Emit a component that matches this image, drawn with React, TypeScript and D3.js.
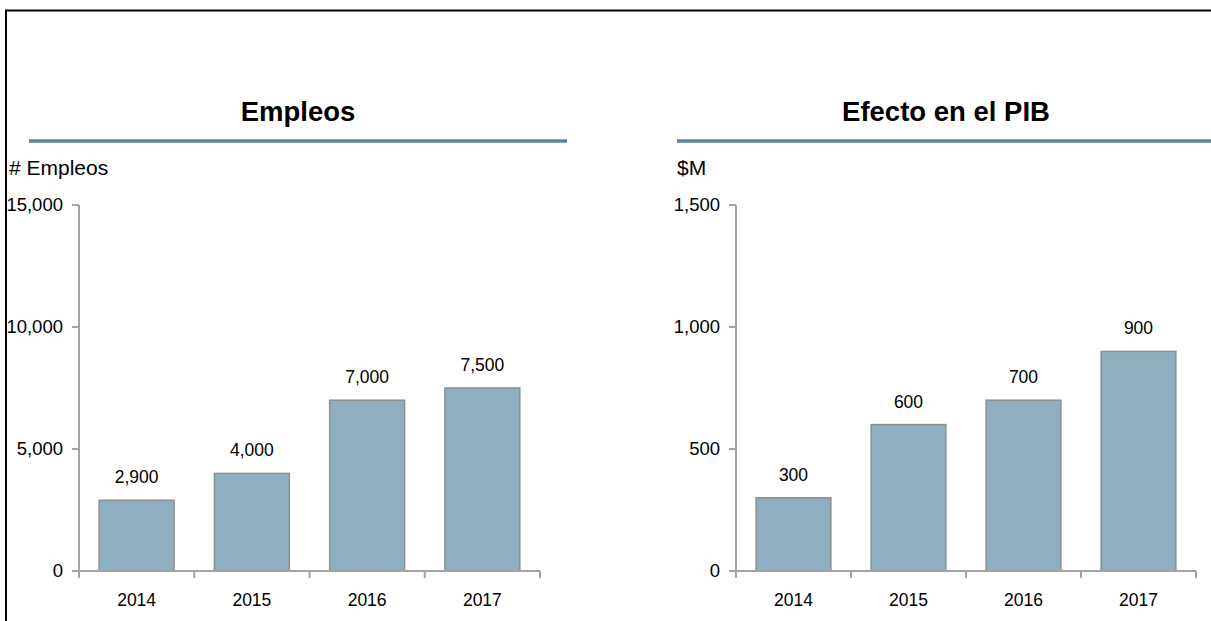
import React from "react";
import * as d3 from "d3";

const years = ["2014", "2015", "2016", "2017"];
const empleos = [2900, 4000, 7000, 7500];
const pib = [300, 600, 700, 900];
const empleosTicks = [0, 5000, 10000, 15000];
const pibTicks = [0, 500, 1000, 1500];

const FONT = "'Liberation Sans', Arial, Helvetica, sans-serif";
const fmt = d3.format(",");

type PanelProps = {
  title: string;
  unit: string;
  values: number[];
  ticks: number[];
  max: number;
  axisX: number;
  axisEnd: number;
  titleX: number;
  lineX0: number;
  lineX1: number;
  unitX: number;
};

function Panel(p: PanelProps) {
  const y = d3.scaleLinear().domain([0, p.max]).range([571, 205]);
  const x = d3
    .scaleBand<string>()
    .domain(years)
    .range([p.axisX, p.axisEnd])
    .paddingInner(0.35)
    .paddingOuter(0.175);
  const step = x.step();
  const boundaries = d3.range(years.length + 1).map((i) => p.axisX + i * step);
  const axisColor = "#a3a3a3";
  return (
    <g>
      <text x={p.titleX} y={121} textAnchor="middle" fontFamily={FONT} fontWeight="bold" fontSize={27.5} fill="#000">
        {p.title}
      </text>
      <line x1={p.lineX0} x2={p.lineX1} y1={141} y2={141} stroke="#5d8597" strokeWidth={3.5} />
      <text x={p.unitX} y={175} fontFamily={FONT} fontSize={21} fill="#000">
        {p.unit}
      </text>
      {p.values.map((v, i) => (
        <rect
          key={"b" + i}
          x={x(years[i])!}
          y={y(v)}
          width={x.bandwidth()}
          height={y(0) - y(v)}
          fill="#8eafc0"
          stroke="#8f8f8f"
          strokeWidth={1.5}
        />
      ))}
      {p.values.map((v, i) => (
        <text
          key={"v" + i}
          x={x(years[i])! + x.bandwidth() / 2}
          y={y(v) - 17}
          textAnchor="middle"
          fontFamily={FONT}
          fontSize={17.5}
          fill="#000"
        >
          {fmt(v)}
        </text>
      ))}
      <line x1={p.axisX} x2={p.axisX} y1={y(p.max)} y2={y(0)} stroke={axisColor} strokeWidth={2} />
      {p.ticks.map((t) => (
        <g key={"t" + t}>
          <line x1={p.axisX - 7} x2={p.axisX} y1={y(t)} y2={y(t)} stroke={axisColor} strokeWidth={2} />
          <text
            x={p.axisX - 16}
            y={y(t)}
            dy="0.35em"
            textAnchor="end"
            fontFamily={FONT}
            fontSize={18.5}
            fill="#000"
          >
            {fmt(t)}
          </text>
        </g>
      ))}
      <line x1={p.axisX - 7} x2={p.axisEnd} y1={y(0)} y2={y(0)} stroke={axisColor} strokeWidth={2} />
      {boundaries.map((bx, i) => (
        <line key={"xb" + i} x1={bx} x2={bx} y1={y(0)} y2={y(0) + 7} stroke={axisColor} strokeWidth={2} />
      ))}
      {years.map((yr) => (
        <text
          key={"y" + yr}
          x={x(yr)! + x.bandwidth() / 2}
          y={606}
          textAnchor="middle"
          fontFamily={FONT}
          fontSize={17.5}
          fill="#000"
        >
          {yr}
        </text>
      ))}
    </g>
  );
}

export default function App() {
  return (
    <svg
      width={1211}
      height={621}
      style={{ position: "absolute", left: 0, top: 0, background: "#fff" }}
    >
      <rect x={0} y={0} width={1211} height={621} fill="#fff" />
      <Panel
        title="Empleos"
        unit="# Empleos"
        values={empleos}
        ticks={empleosTicks}
        max={15000}
        axisX={79}
        axisEnd={540}
        titleX={298}
        lineX0={29}
        lineX1={567}
        unitX={9}
      />
      <Panel
        title="Efecto en el PIB"
        unit="$M"
        values={pib}
        ticks={pibTicks}
        max={1500}
        axisX={736}
        axisEnd={1196}
        titleX={946}
        lineX0={677}
        lineX1={1211}
        unitX={677}
      />
      <line x1={5} x2={1211} y1={10.5} y2={10.5} stroke="#000" strokeWidth={2} />
      <line x1={6} x2={6} y1={10} y2={621} stroke="#000" strokeWidth={2} />
    </svg>
  );
}
